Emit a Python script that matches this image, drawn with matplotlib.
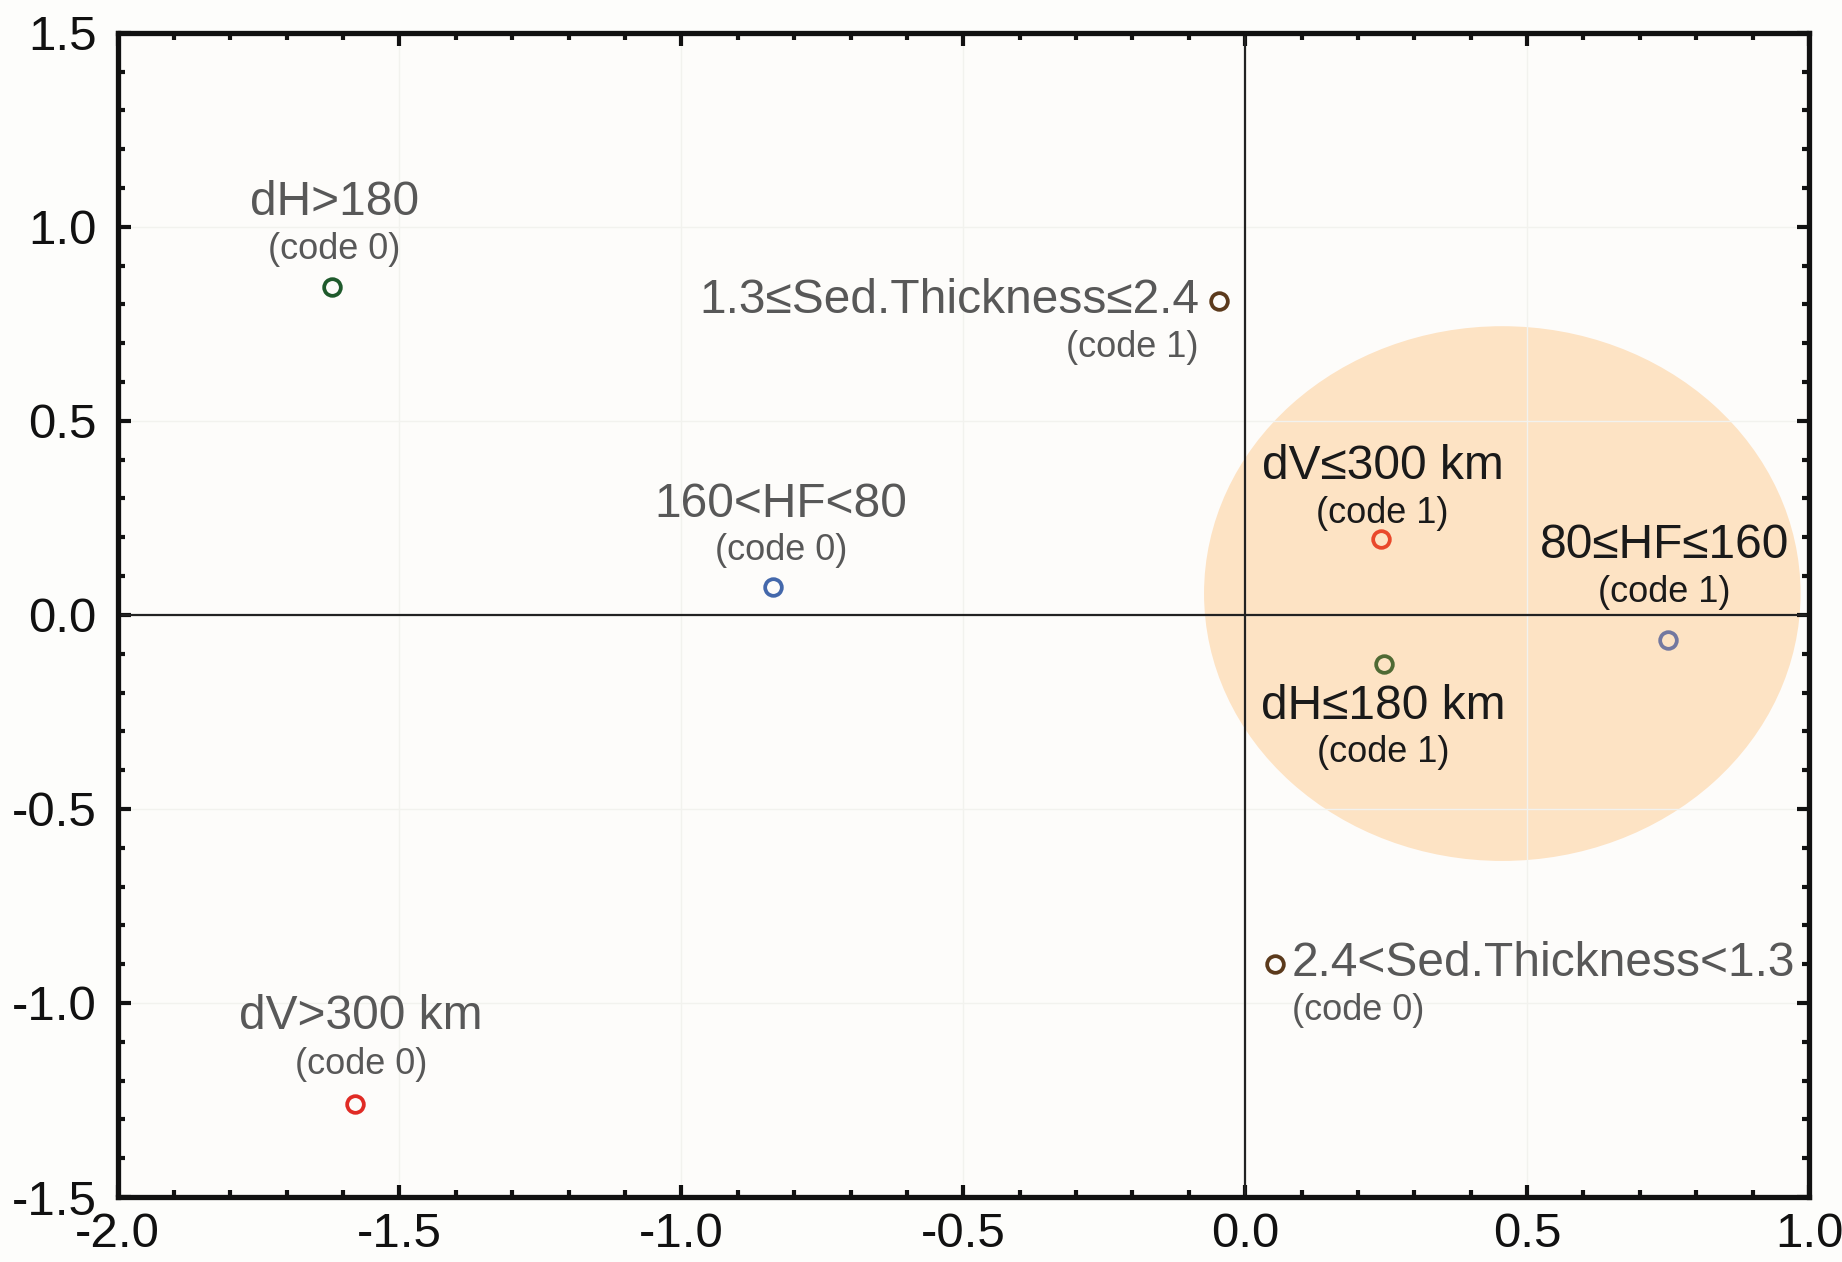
import matplotlib
matplotlib.use("Agg")
import matplotlib.pyplot as plt
from matplotlib.patches import Ellipse
from matplotlib.ticker import MultipleLocator, FormatStrFormatter

plt.rcParams['font.family'] = ['Liberation Sans', 'DejaVu Sans']

# Category coordinates on the two correspondence dimensions
categories = ["dH>180", "1.3≤Sed.Thickness≤2.4", "160<HF<80", "dV≤300 km",
              "80≤HF≤160", "dH≤180 km", "2.4<Sed.Thickness<1.3", "dV>300 km"]
codes = ["(code 0)", "(code 1)", "(code 0)", "(code 1)",
         "(code 1)", "(code 1)", "(code 0)", "(code 0)"]
dim1 = [-1.619, -0.046, -0.838, 0.240, 0.750, 0.246, 0.052, -1.579]
dim2 = [0.846, 0.810, 0.071, 0.195, -0.065, -0.126, -0.900, -1.261]
colors = ["#1f5a2c", "#5b3a1c", "#4468ab", "#e9482b",
          "#7378a0", "#4f6a34", "#5b3a1c", "#e02b25"]

# Highlighted cluster (centre x, centre y, width, height)
cluster = (0.456, 0.055, 1.058, 1.378)

# Label placement: (main dx, main dy, main ha, code dx, code dy, code ha) in pixels
label_pos = [
    (2, 84, 'center', 2, 37, 'center'),
    (-20, 0, 'right', -87, -47, 'center'),
    (8, 83, 'center', 8, 37, 'center'),
    (2, 73, 'center', 2, 26, 'center'),
    (-4, 95, 'center', -4, 48, 'center'),
    (-1, -43, 'center', -1, -89, 'center'),
    (17, 1, 'left', 17, -46, 'left'),
    (6, 88, 'center', 6, 40, 'center'),
]
inside = [False, False, False, True, True, True, False, False]

fig = plt.figure(figsize=(18.42, 12.62), dpi=100, facecolor='#fdfdfb')
ax = fig.add_axes([0.0638, 0.0515, 0.9183, 0.9225])
ax.set_facecolor('#fdfcfa')

ax.set_xlim(-2.0, 1.0)
ax.set_ylim(-1.5, 1.5)

ax.add_patch(Ellipse((cluster[0], cluster[1]), cluster[2], cluster[3],
                     facecolor='#fde3c4', edgecolor='none', zorder=1))

ax.grid(True, which='major', color='#f2f2ee', linewidth=1.0, zorder=0)
ax.axhline(0, color='#222222', linewidth=1.6, zorder=2)
ax.axvline(0, color='#222222', linewidth=1.6, zorder=2)

for i in range(len(categories)):
    ax.plot(dim1[i], dim2[i], 'o', markersize=12, markerfacecolor='none',
            markeredgecolor=colors[i], markeredgewidth=2.7, zorder=4)
    mdx, mdy, mha, cdx, cdy, cha = label_pos[i]
    tc = '#1a1a1a' if inside[i] else '#585858'
    ax.annotate(categories[i], (dim1[i], dim2[i]), xytext=(mdx, mdy),
                textcoords='offset pixels', ha=mha, va='center',
                fontsize=34.5, color=tc, zorder=5)
    ax.annotate(codes[i], (dim1[i], dim2[i]), xytext=(cdx, cdy),
                textcoords='offset pixels', ha=cha, va='center',
                fontsize=26, color=tc, zorder=5)

ax.xaxis.set_major_locator(MultipleLocator(0.5))
ax.xaxis.set_minor_locator(MultipleLocator(0.1))
ax.yaxis.set_major_locator(MultipleLocator(0.5))
ax.yaxis.set_minor_locator(MultipleLocator(0.1))
ax.xaxis.set_major_formatter(FormatStrFormatter('%.1f'))
ax.yaxis.set_major_formatter(FormatStrFormatter('%.1f'))

ax.tick_params(which='both', direction='in', top=True, right=True,
               color='#111111', labelsize=35.5, labelcolor='#111111')
ax.tick_params(which='major', length=9, width=3)
ax.tick_params(which='minor', length=5, width=3)
ax.tick_params(axis='x', pad=11)
ax.tick_params(axis='y', pad=15)

for s in ax.spines.values():
    s.set_linewidth(3.8)
    s.set_color('#111111')
    s.set_zorder(6)

fig.savefig('out.png', dpi=100, facecolor=fig.get_facecolor())
